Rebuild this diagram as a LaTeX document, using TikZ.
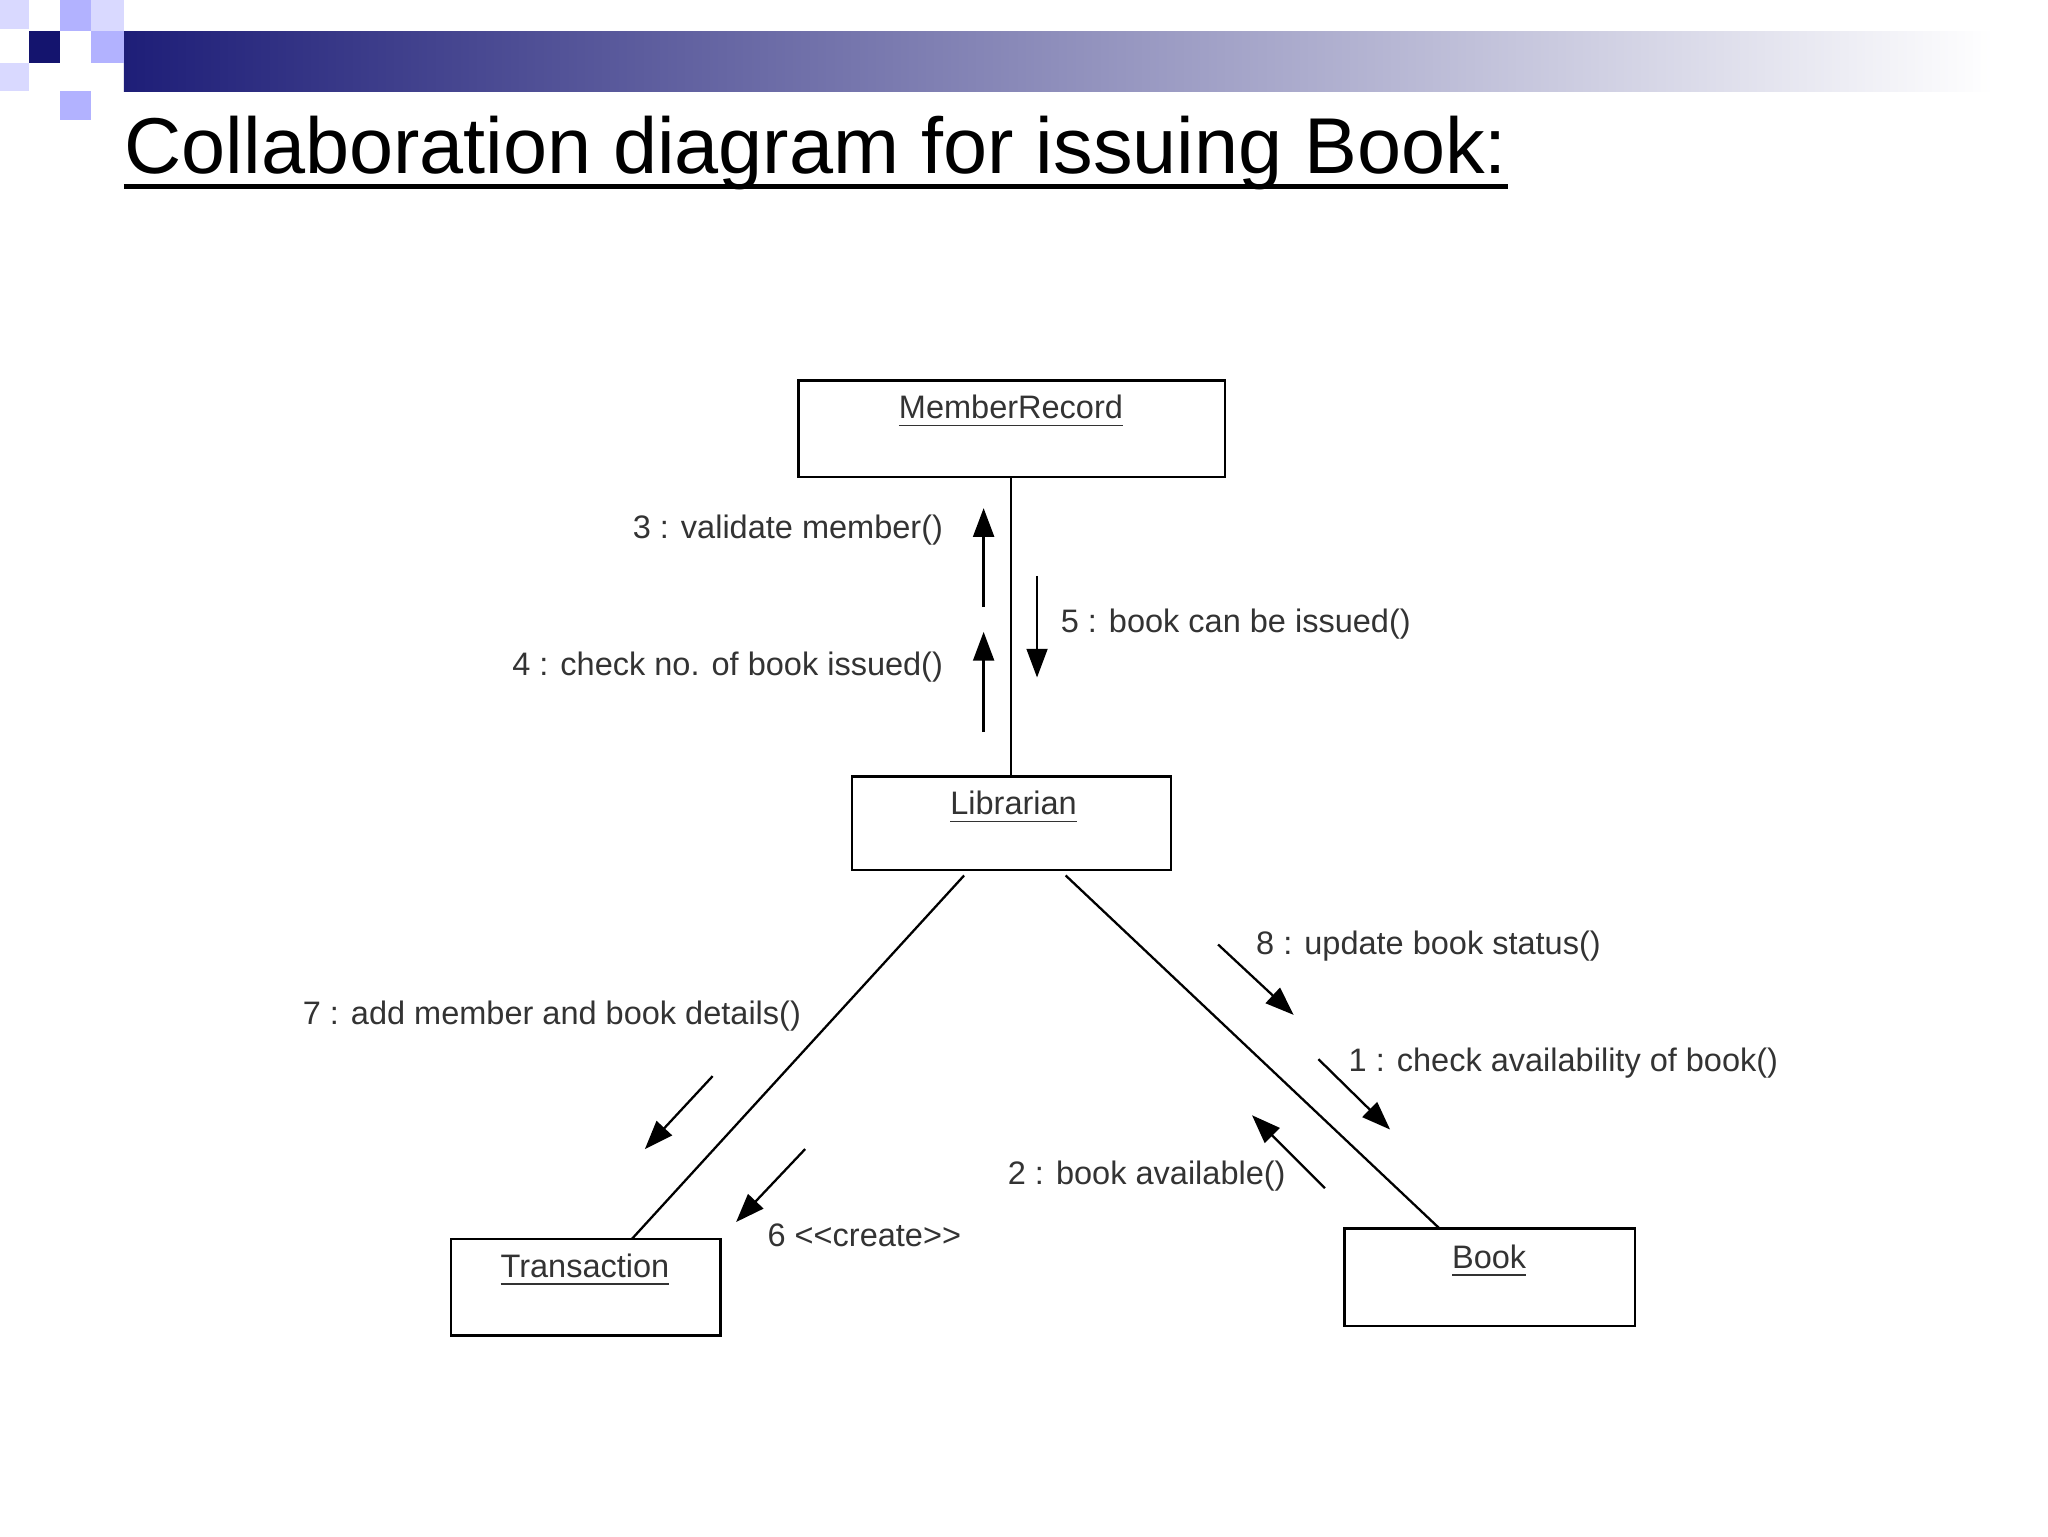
\documentclass[tikz,border=0pt]{standalone}
\usepackage{fontspec}
\setmainfont{Liberation Sans}
\usetikzlibrary{arrows.meta}
\definecolor{navy}{RGB}{30,30,120}
\definecolor{dnavy}{RGB}{20,20,110}
\begin{document}
\begin{tikzpicture}[x=0.1mm,y=-0.1mm,
  obj/.style={draw,line width=0.5pt,fill=white},
  lbl/.style={font=\fontsize{7.1}{8}\selectfont,text=black!80,inner sep=1pt},
  msg/.style={line width=0.5pt,-{Triangle[length=2.2mm,width=1.6mm]}},
  lnk/.style={line width=0.5pt}]
\useasboundingbox (0,0) rectangle (1572,1179);
% decoration
\shade[left color=navy,right color=white] (95,24) rectangle (1530,70);
\fill[blue!15!white] (0,0) rectangle (22,22);
\fill[blue!30!white] (46,0) rectangle (70,24);
\fill[blue!30!white] (70,24) rectangle (95,48);
\fill[blue!30!white] (46,70) rectangle (70,92);
\fill[blue!15!white] (0,48) rectangle (22,70);
\fill[blue!15!white] (70,0) rectangle (95,24);
\fill[dnavy] (22,24) rectangle (46,48);
\node[anchor=base west,inner sep=0pt,font=\fontsize{17.3}{19}\selectfont] (title) at (95,133) {Collaboration diagram for issuing Book:};
\draw[line width=1.2pt] (title.base west) ++(0,10) coordinate (u1) -- (u1 -| title.east);
% objects
\draw[obj] (613,292) rectangle (940,366);
\node[lbl] (mr) at (776,316) {\underline{MemberRecord}};
\draw[obj] (654,596) rectangle (899,668);
\node[lbl] (lib) at (778,620) {\underline{Librarian}};
\draw[obj] (346,951) rectangle (553,1025);
\node[lbl] (tr) at (449,975) {\underline{Transaction}};
\draw[obj] (1032,943) rectangle (1255,1018);
\node[lbl] (bk) at (1143,968) {\underline{Book}};
% links
\coordinate (a1) at (776,366); \coordinate (a2) at (776,596);
\draw[lnk] (a1) -- (a2);
\coordinate (b1) at (740,672); \coordinate (b2) at (485,951);
\draw[lnk] (b1) -- (b2);
\coordinate (c1) at (818,672); \coordinate (c2) at (1105,943);
\draw[lnk] (c1) -- (c2);
% messages
\coordinate (m3a) at (755,466); \coordinate (m3b) at (755,390);
\draw[msg] (m3a) -- (m3b);
\node[lbl,anchor=east] (l3) at (728,407) {3 : validate member()};
\coordinate (m4a) at (755,562); \coordinate (m4b) at (755,485);
\draw[msg] (m4a) -- (m4b);
\node[lbl,anchor=east] (l4) at (728,512) {4 : check no. of book issued()};
\coordinate (m5a) at (796,442); \coordinate (m5b) at (796,520);
\draw[msg] (m5a) -- (m5b);
\node[lbl,anchor=west] (l5) at (810,479) {5 : book can be issued()};
\coordinate (m8a) at (935,725); \coordinate (m8b) at (993,779);
\draw[msg] (m8a) -- (m8b);
\node[lbl,anchor=west] (l8) at (960,726) {8 : update book status()};
\coordinate (m1a) at (1012,813); \coordinate (m1b) at (1067,867);
\draw[msg] (m1a) -- (m1b);
\node[lbl,anchor=west] (l1) at (1031,816) {1 : check availability of book()};
\coordinate (m2a) at (1017,912); \coordinate (m2b) at (961,856);
\draw[msg] (m2a) -- (m2b);
\node[lbl,anchor=east] (l2) at (991,903) {2 : book available()};
\coordinate (m7a) at (547,826); \coordinate (m7b) at (495,882);
\draw[msg] (m7a) -- (m7b);
\node[lbl,anchor=east] (l7) at (619,780) {7 : add member and book details()};
\coordinate (m6a) at (618,882); \coordinate (m6b) at (565,938);
\draw[msg] (m6a) -- (m6b);
\node[lbl,anchor=west] (l6) at (585,948) {6 <{}<create>{}>};
\end{tikzpicture}
\end{document}
